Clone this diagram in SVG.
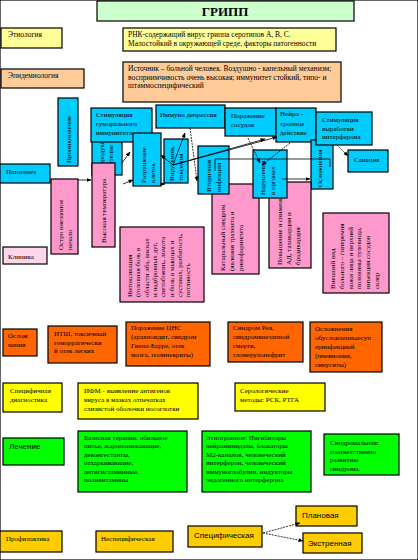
<svg xmlns="http://www.w3.org/2000/svg" width="418" height="560" viewBox="0 0 418 560">
<defs>
<marker id="ah" viewBox="0 0 10 10" refX="9" refY="5" markerUnits="userSpaceOnUse" markerWidth="5" markerHeight="5" orient="auto"><path d="M0,1 L10,5 L0,9 z" fill="#000"/></marker>
</defs>
<style>
rect{stroke:#000;stroke-width:1.2}
text{font-family:"Liberation Serif","Times New Roman",serif;font-size:7px;fill:#000}
.b{font-size:7.5px}
.s{font-family:"Liberation Sans",Arial,sans-serif;font-size:8px}
.t{font-size:13px;font-weight:bold}
.c{fill:#00ccff}.p{fill:#ff99cc}.o{fill:#ff6600}.y{fill:#ffff00}.g{fill:#00ff00}.gd{fill:#ffcc00}
.ly{fill:#ffff99}.pe{fill:#ffcc99}.lg{fill:#ccffcc}.lp{fill:#ffd5ea}
.ln{fill:none;stroke:#000;stroke-width:0.8}
.d{stroke-dasharray:2,1}
</style>
<rect width="418" height="560" fill="#fff" stroke="none"/>

<g id="title"><rect class="lg" x="97" y="1" width="257" height="20"/><text class="t" x="225" y="16" text-anchor="middle">ГРИПП</text></g>

<g id="etiology"><rect class="ly" x="1" y="28" width="61" height="20"/><text class="b" x="8" y="37">Этиология</text></g>
<g id="etiology-desc"><rect class="ly" x="123" y="28" width="213" height="23"/><text class="b" x="128" y="37">РНК-содержащий вирус гриппа серотипов А, В, С.<tspan x="128" dy="9">Малостойкий в окружающей среде, факторы патогенности</tspan></text></g>

<g id="epidemiology"><rect class="pe" x="1" y="69" width="83" height="19"/><text class="b" x="8" y="78">Эпидемиология</text></g>
<g id="epidemiology-desc"><rect class="pe" x="123" y="62" width="218" height="40"/><text class="b" x="128" y="71">Источник – больной человек. Воздушно - капельный механизм;<tspan x="128" dy="8.5">восприимчивость очень высокая; иммунитет стойкий, типо- и</tspan><tspan x="128" dy="8.5">штаммоспецифический</tspan></text></g>

<g id="pathogenesis"><rect class="c" x="0" y="164" width="50" height="19"/><text x="6" y="174">Патогенез</text></g>
<g id="penetration"><rect class="c" x="58" y="98" width="20" height="68"/><text transform="translate(71,163) rotate(-90)">Проникновение</text></g>
<g id="replication"><rect class="c" x="92" y="133" width="30" height="42"/><text transform="translate(104,172) rotate(-90)">Репродукция в<tspan x="0" dy="9">эпителие</tspan></text></g>
<g id="humoral"><rect class="c" x="91" y="108" width="61" height="34"/><text x="96" y="117">Стимуляция<tspan x="96" dy="9">гуморального</tspan><tspan x="96" dy="9">иммунитета</tspan></text></g>
<g id="fever"><rect class="p" x="92" y="163" width="23" height="84"/><text transform="translate(106,243) rotate(-90)">Высокая температура</text></g>
<g id="onset"><rect class="p" x="51" y="179" width="27" height="75"/><text transform="translate(63,250) rotate(-90)">Остро внезапное<tspan x="0" dy="9">начало</tspan></text></g>
<g id="clinic"><rect class="lp" x="3" y="247" width="44" height="17"/><text x="8" y="259">Клиника</text></g>
<g id="intoxication"><rect class="p" x="120" y="227" width="84" height="75"/><text transform="translate(132,297) rotate(-90)">Интоксикация<tspan x="0" dy="8.3">(головная боль в</tspan><tspan x="0" dy="8.3">области лба, висках</tspan><tspan x="0" dy="8.3">и надбровных дуг,</tspan><tspan x="0" dy="8.3">светобоязнь, ломота</tspan><tspan x="0" dy="8.3">и боль в мышцах и</tspan><tspan x="0" dy="8.3">суставах, разбитость,</tspan><tspan x="0" dy="8.3">потливость</tspan></text></g>
<g id="destruction"><rect class="c" x="133" y="133" width="28" height="53"/><text transform="translate(146,183) rotate(-90)">Разрушение<tspan x="0" dy="8.5">клеток</tspan></text></g>
<g id="viremia"><rect class="c" x="164" y="139" width="24" height="44"/><text transform="translate(174,181) rotate(-90)">Вирусемия,<tspan x="0" dy="9">токсемия</tspan></text></g>
<g id="immunodepression"><rect class="c" x="156" y="105" width="69" height="23"/><text x="160" y="117">Иммуно депрессия</text></g>
<g id="vessels"><rect class="c" x="225" y="108" width="51" height="28"/><text x="231" y="118">Поражение<tspan x="231" dy="9">сосудов</tspan></text></g>
<g id="neuro"><rect class="c" x="276" y="108" width="40" height="34"/><text x="280" y="116">Нейро -<tspan x="280" dy="9.5">тропное</tspan><tspan x="280" dy="9.5">действие</tspan></text></g>
<g id="complications-v"><rect class="c" x="311" y="140" width="22" height="49"/><text transform="translate(322,187) rotate(-90)">Осложнения</text></g>
<g id="interferon"><rect class="c" x="316" y="112" width="56" height="33"/><text x="322" y="122">Стимуляция<tspan x="322" dy="8.7">выработки</tspan><tspan x="322" dy="8.7">интерферона</tspan></text></g>
<g id="sanation"><rect class="c" x="348" y="150" width="40" height="22"/><text x="354" y="162">Санация</text></g>
<g id="catarrhal"><rect class="p" x="212" y="184" width="47" height="90"/><text transform="translate(225,271) rotate(-90)">Катаральный синдром<tspan x="0" dy="9">(явления трахеита и</tspan><tspan x="0" dy="9">ринофарингита</tspan></text></g>
<g id="pressure"><rect class="p" x="269" y="182" width="42" height="86"/><text transform="translate(282,265) rotate(-90)">Повышение и снижение<tspan x="0" dy="9">АД, тахикардия и</tspan><tspan x="0" dy="9">брадикардия</tspan></text></g>
<g id="secondary"><rect class="c" x="198" y="146" width="31" height="48"/><text transform="translate(211,192) rotate(-90)">Вторичная<tspan x="0" dy="9.5">инфекция</tspan></text></g>
<g id="organs"><rect class="c" x="253" y="150" width="34" height="48"/><text transform="translate(265,195) rotate(-90)">Нарушения<tspan x="0" dy="9.5">в органах</tspan></text></g>
<g id="appearance"><rect class="p" x="323" y="213" width="66" height="80"/><text transform="translate(335,289) rotate(-90)">Внешний вид<tspan x="0" dy="8.8">больного – гиперемия</tspan><tspan x="0" dy="8.8">кожи лица и верхней</tspan><tspan x="0" dy="8.8">половины туловища,</tspan><tspan x="0" dy="8.8">инъекция сосудов</tspan><tspan x="0" dy="8.8">склер</tspan></text></g>

<g id="complications"><rect class="o" x="3" y="329" width="34" height="27"/><text x="8" y="338">Ослож<tspan x="8" dy="9">нения</tspan></text></g>
<g id="its"><rect class="o" x="48" y="326" width="69" height="37"/><text x="54" y="336">ИТШ, токсичный<tspan x="54" dy="8.5">геморрагически</tspan><tspan x="54" dy="8.5">й отек легких</tspan></text></g>
<g id="cns"><rect class="o" x="126" y="322" width="84" height="44"/><text x="131" y="330">Поражение ЦНС<tspan x="131" dy="9">(арахноидит, синдром</tspan><tspan x="131" dy="9">Гиена-Барре, отек</tspan><tspan x="131" dy="9">мозга, полиневриты)</tspan></text></g>
<g id="reye"><rect class="o" x="228" y="322" width="75" height="40"/><text x="233" y="330">Синдром Рея,<tspan x="233" dy="9">синдромвнезапной</tspan><tspan x="233" dy="9">смерти,</tspan><tspan x="233" dy="9">гломерулонефрит</tspan></text></g>
<g id="superinfection"><rect class="o" x="310" y="322" width="72" height="50"/><text x="315" y="331">Осложнения<tspan x="315" dy="9">обусловленныесуп</tspan><tspan x="315" dy="9">еринфекцией</tspan><tspan x="315" dy="9">(пневмония,</tspan><tspan x="315" dy="9">синуситы)</tspan></text></g>

<g id="diagnostics"><rect class="y" x="3" y="383" width="59" height="29"/><text x="10" y="393">Специфичная<tspan x="10" dy="9">диагностика</tspan></text></g>
<g id="ifm"><rect class="y" x="78" y="383" width="120" height="36"/><text x="84" y="393">ИФМ - выявление антигенов<tspan x="84" dy="9">вируса в мазках отпечатках</tspan><tspan x="84" dy="9">слизистой оболочки носоглотки</tspan></text></g>
<g id="serology"><rect class="y" x="235" y="383" width="90" height="28"/><text x="240" y="393">Серологические<tspan x="240" dy="9">методы: РСК, РТГА</tspan></text></g>

<g id="treatment"><rect class="g" x="3" y="438" width="61" height="27"/><text class="s" x="9" y="449">Лечение</text></g>
<g id="basic"><rect class="g" x="78" y="431" width="109" height="61"/><text x="84" y="440">Базисная терапия: обильное<tspan x="84" dy="8.4">питье, жаропонижающие,</tspan><tspan x="84" dy="8.4">деконгестанты,</tspan><tspan x="84" dy="8.4">отхаркивающие,</tspan><tspan x="84" dy="8.4">антигистаминные,</tspan><tspan x="84" dy="8.4">поливитамины</tspan></text></g>
<g id="etiotropic"><rect class="g" x="202" y="431" width="109" height="61"/><text x="206" y="440">Этиотропное: Ингибиторы<tspan x="206" dy="8.4">нейраминидазы, блокаторы</tspan><tspan x="206" dy="8.4">М2-каналов, человеческий</tspan><tspan x="206" dy="8.4">интерферон, человеческий</tspan><tspan x="206" dy="8.4">иммуноглобулин, индукторы</tspan><tspan x="206" dy="8.4">эндогенного интерферона</tspan></text></g>
<g id="syndromic"><rect class="g" x="324" y="434" width="75" height="41"/><text x="330" y="445">Синдромальная:<tspan x="330" dy="8.5">соответственно</tspan><tspan x="330" dy="8.5">развитию</tspan><tspan x="330" dy="8.5">синдрома.</tspan></text></g>

<g id="prophylaxis"><rect class="gd" x="0" y="531" width="62" height="21"/><text x="6" y="541">Профилактика</text></g>
<g id="nonspecific"><rect class="gd" x="96" y="531" width="77" height="21"/><text x="101" y="541">Неспецифическая</text></g>
<g id="specific"><rect class="gd" x="188" y="526" width="74" height="21"/><text class="s" x="194" y="538">Специфическая</text></g>
<g id="planned"><rect class="gd" x="296" y="506" width="61" height="20"/><text class="s" x="302" y="518">Плановая</text></g>
<g id="emergency"><rect class="gd" x="303" y="533" width="59" height="20"/><text class="s" x="308" y="546">Экстренная</text></g>

<g id="connectors">
<line class="ln" x1="78" y1="180" x2="91" y2="180" marker-end="url(#ah)"/>
<line class="ln" x1="122" y1="163" x2="130" y2="152" marker-end="url(#ah)"/>
<line class="ln" x1="123" y1="184" x2="133" y2="180" marker-end="url(#ah)"/>
<line class="ln" x1="173" y1="165" x2="161" y2="155" marker-end="url(#ah)"/>
<line class="ln" x1="160" y1="184" x2="165" y2="184" marker-end="url(#ah)"/>
<line class="ln" x1="173" y1="165" x2="185" y2="133" marker-end="url(#ah)"/>
<line class="ln" x1="173" y1="165" x2="265" y2="139" marker-end="url(#ah)"/>
<line class="ln" x1="173" y1="165" x2="277" y2="137" marker-end="url(#ah)"/>
<line class="ln d" x1="190" y1="128" x2="197" y2="181" marker-end="url(#ah)"/>
<polyline class="ln" points="215,171 215,159 330,159 330,167"/>
<line class="ln d" x1="248" y1="138" x2="260" y2="163" marker-end="url(#ah)"/>
<line class="ln d" x1="290" y1="143" x2="262" y2="165" marker-end="url(#ah)"/>
<line class="ln" x1="282" y1="179" x2="310" y2="179" marker-end="url(#ah)"/>
<line class="ln d" x1="337" y1="145" x2="348" y2="156" marker-end="url(#ah)"/>
<line class="ln d" x1="263" y1="533" x2="300" y2="523" marker-end="url(#ah)"/>
<line class="ln d" x1="263" y1="533" x2="303" y2="541" marker-end="url(#ah)"/>
</g>
</svg>
